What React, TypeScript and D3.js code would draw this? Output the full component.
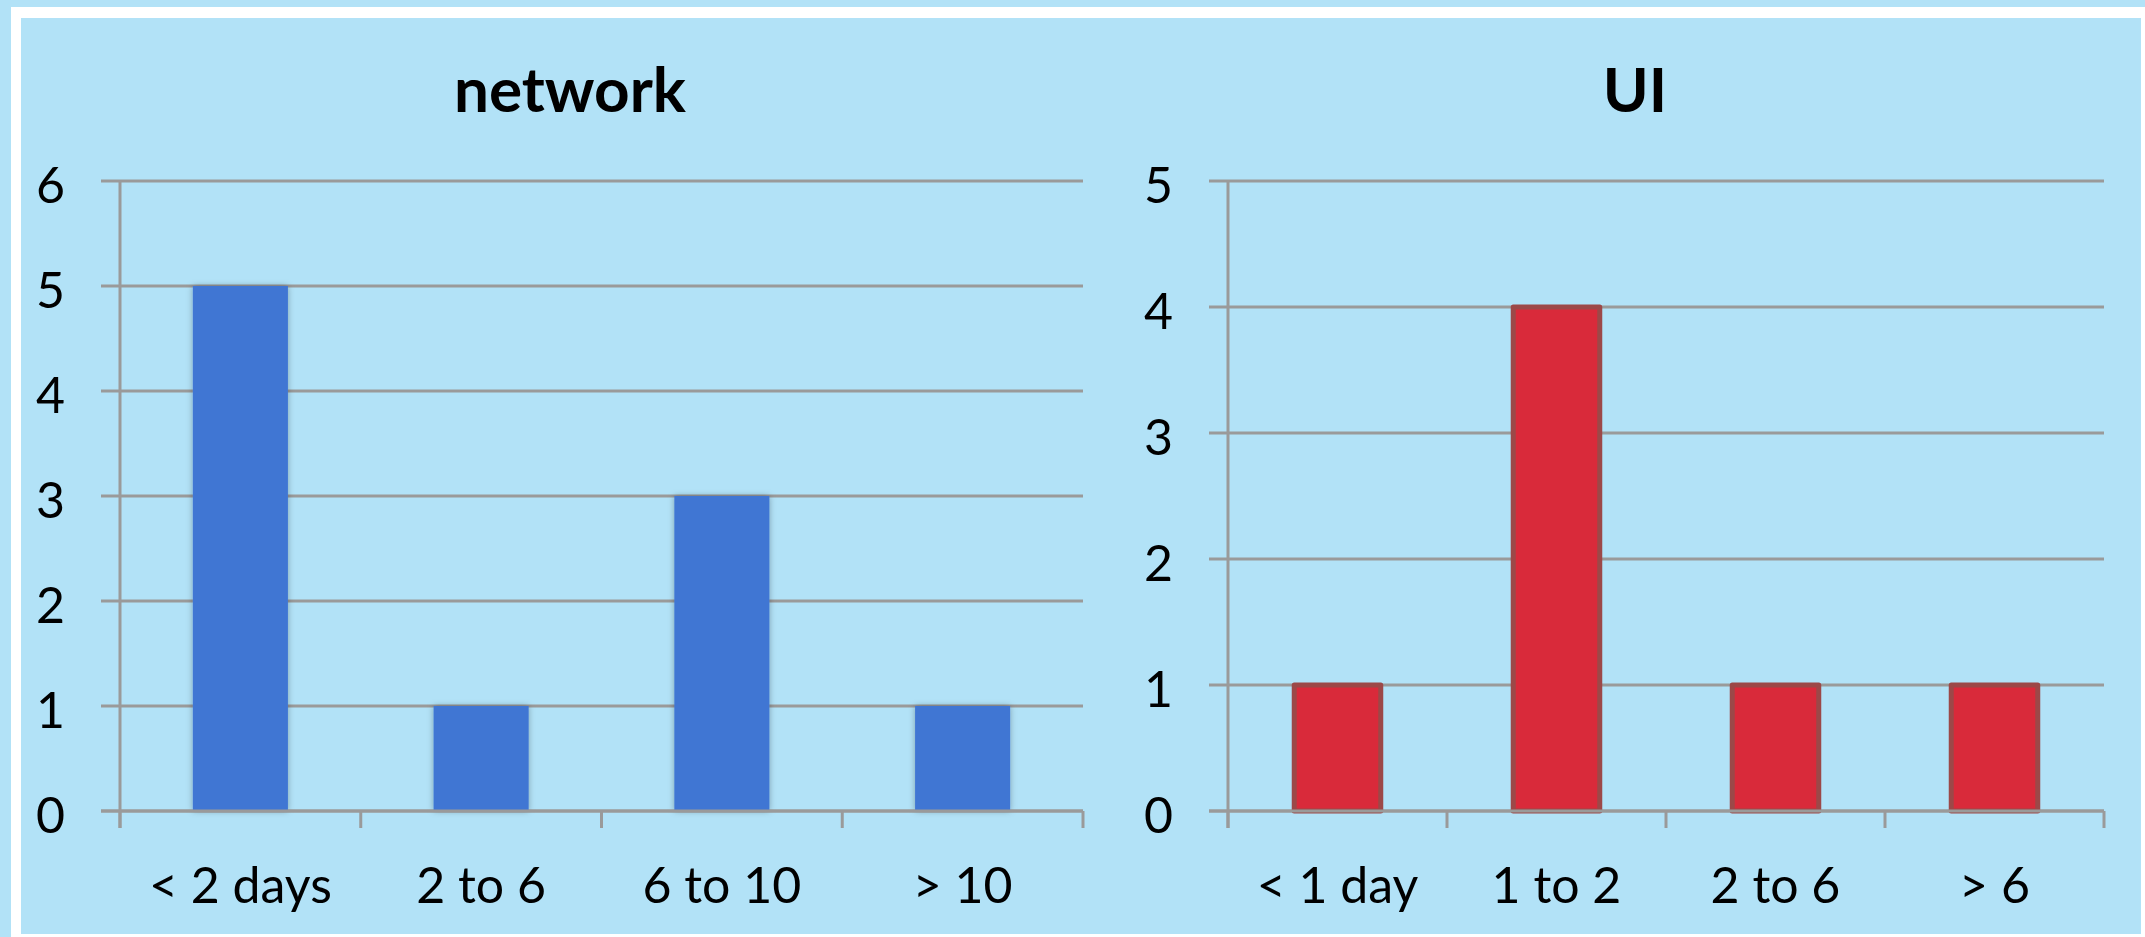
import { scaleBand, scaleLinear } from 'd3'

const networkCategories = ['< 2 days', '2 to 6', '6 to 10', '> 10']
const networkValues = [5, 1, 3, 1]
const networkTicks = [0, 1, 2, 3, 4, 5, 6]

const uiCategories = ['< 1 day', '1 to 2', '2 to 6', '> 6']
const uiValues = [1, 4, 1, 1]
const uiTicks = [0, 1, 2, 3, 4, 5]

const width = 2145
const height = 937
const plotTop = 181
const plotBottom = 811
const fontFamily = 'Lato, "Open Sans", sans-serif'
const gridColor = '#9a9a9a'

type PanelProps = {
  title: string
  titleX: number
  categories: string[]
  values: number[]
  ticks: number[]
  left: number
  right: number
  fill: string
  stroke?: string
  shadow?: boolean
}

function BarPanel({ title, titleX, categories, values, ticks, left, right, fill, stroke, shadow }: PanelProps) {
  const xScale = scaleBand()
    .domain(categories)
    .range([left, right])
    .paddingInner(0.605)
    .paddingOuter(0.3025)

  const yScale = scaleLinear()
    .domain([0, ticks[ticks.length - 1]])
    .range([plotBottom, plotTop])

  const step = xScale.step()
  const boundaries = categories.map((_, i) => left + i * step).concat(right)

  return (
    <g>
      <text
        x={titleX}
        y={112}
        textAnchor="middle"
        fontFamily={fontFamily}
        fontWeight="bold"
        fontSize={62}
        fill="#000"
      >
        {title}
      </text>

      {ticks.map((tick) => (
        <line
          key={`grid-${tick}`}
          x1={left - 19}
          x2={right}
          y1={yScale(tick)}
          y2={yScale(tick)}
          stroke={gridColor}
          strokeWidth={3}
        />
      ))}

      {ticks.map((tick) => (
        <text
          key={`label-${tick}`}
          x={left - 55}
          y={yScale(tick) + 22}
          textAnchor="end"
          fontFamily={fontFamily}
          fontSize={50}
          fill="#000"
        >
          {tick}
        </text>
      ))}

      {categories.map((cat, i) => {
        const x = xScale(cat) ?? 0
        const y = yScale(values[i])
        return (
          <rect
            key={`bar-${cat}`}
            x={x}
            y={y}
            width={xScale.bandwidth()}
            height={plotBottom - y}
            fill={fill}
            stroke={stroke ?? 'none'}
            strokeWidth={stroke ? 5 : 0}
            strokeLinejoin="round"
            filter={shadow ? 'url(#barShadow)' : undefined}
          />
        )
      })}

      <line x1={left} x2={left} y1={plotTop} y2={plotBottom + 17} stroke={gridColor} strokeWidth={3} />
      <line x1={left - 19} x2={right} y1={plotBottom} y2={plotBottom} stroke={gridColor} strokeWidth={3} />
      {boundaries.map((bx, i) => (
        <line
          key={`tick-${i}`}
          x1={bx}
          x2={bx}
          y1={plotBottom}
          y2={plotBottom + 17}
          stroke={gridColor}
          strokeWidth={3}
        />
      ))}

      {categories.map((cat) => (
        <text
          key={`cat-${cat}`}
          x={(xScale(cat) ?? 0) + xScale.bandwidth() / 2}
          y={plotBottom + 92}
          textAnchor="middle"
          fontFamily={fontFamily}
          fontSize={50}
          fill="#000"
        >
          {cat}
        </text>
      ))}
    </g>
  )
}

export default function App() {
  return (
    <svg
      width={width}
      height={height}
      viewBox={`0 0 ${width} ${height}`}
      style={{ position: 'absolute', left: 0, top: 0, display: 'block' }}
    >
      <defs>
        <filter id="barShadow" x="-20%" y="-20%" width="140%" height="140%">
          <feDropShadow dx={0} dy={0} stdDeviation={3} floodColor="#000" floodOpacity={0.3} />
        </filter>
      </defs>
      <rect x={0} y={0} width={width} height={height} fill="#b2e2f7" />
      <rect x={11} y={7} width={width - 11} height={height - 7} fill="#ffffff" />
      <rect x={21} y={18} width={2120} height={916} fill="#b2e2f7" />

      <BarPanel
        title="network"
        titleX={570}
        categories={networkCategories}
        values={networkValues}
        ticks={networkTicks}
        left={120}
        right={1083}
        fill="#4176d3"
        shadow
      />
      <BarPanel
        title="UI"
        titleX={1635}
        categories={uiCategories}
        values={uiValues}
        ticks={uiTicks}
        left={1228}
        right={2104}
        fill="#d92a3a"
        stroke="#9c4848"
      />
    </svg>
  )
}
